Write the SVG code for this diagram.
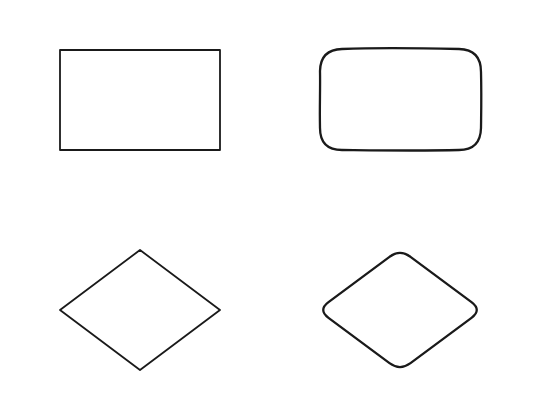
<svg xmlns="http://www.w3.org/2000/svg" width="560" height="420" viewBox="0 0 560 420">
<style>
.s{fill:#ffffff;stroke:#1a1a1a;stroke-linejoin:round}
.thin{stroke-width:1.8}
.thick{stroke-width:2.3}
</style>
<rect width="560" height="420" fill="#ffffff"/>
<g id="rect">
<rect class="s thin" x="60" y="50" width="160" height="100"/>
</g>
<g id="rounded-rect">
<path class="s thick" d="M342,49 C380,47.6 430,48.4 459,49 Q481,49.5 481,72 C481.6,95 481.2,112 481,128 Q480.5,150 459,150 C420,151 380,150.4 342,150 Q320,150 320,128 C319.5,105 320.4,90 320,71 Q320.5,49.5 342,49 Z"/>
</g>
<g id="diamond">
<polygon class="s thin" points="140,250 220,310 140,370 60,310"/>
</g>
<g id="rounded-diamond">
<path class="s thick" d="M328.5,302.2 L389.5,256.8 Q400,249 410.5,256.8 L471.5,302.2 Q482,310 471.5,317.8 L410.5,363.2 Q400,371 389.5,363.2 L328.5,317.8 Q318,310 328.5,302.2 Z"/>
</g>
<g id="connectors"></g>
</svg>
